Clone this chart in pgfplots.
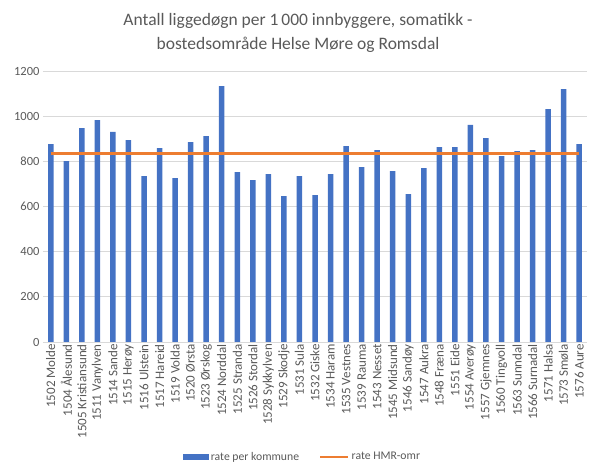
\documentclass[border=0pt]{standalone}
\usepackage{pgfplots}
\pgfplotsset{compat=1.18}
\usepackage{fontspec}
\setmainfont{Carlito}
\definecolor{barblue}{HTML}{4472C4}
\definecolor{lineorange}{HTML}{ED7D31}
\definecolor{txtgray}{HTML}{595959}
\definecolor{gridgray}{HTML}{D9D9D9}
\begin{document}
\begin{tikzpicture}
\path[use as bounding box] (0pt,0pt) rectangle (600pt,471pt);
\node[font=\fontsize{17.5}{24}\selectfont, text=txtgray, align=center] at (298pt,438pt) {Antall liggedøgn per 1\,000 innbyggere, somatikk -\\bostedsområde Helse Møre og Romsdal};
\begin{axis}[
  at={(43pt,129pt)}, anchor=south west,
  scale only axis, width=544pt, height=271pt,
  xmin=-0.5, xmax=34.5, ymin=0, ymax=1200,
  ytick={0,200,...,1200},
  xtick={0,...,34},
  xticklabels={1502 Molde,1504 Ålesund,1505 Kristiansund,1511 Vanylven,1514 Sande,1515 Herøy,1516 Ulstein,1517 Hareid,1519 Volda,1520 Ørsta,1523 Ørskog,1524 Norddal,1525 Stranda,1526 Stordal,1528 Sykkylven,1529 Skodje,1531 Sula,1532 Giske,1534 Haram,1535 Vestnes,1539 Rauma,1543 Nesset,1545 Midsund,1546 Sandøy,1547 Aukra,1548 Fræna,1551 Eide,1554 Averøy,1557 Gjemnes,1560 Tingvoll,1563 Sunndal,1566 Surnadal,1571 Halsa,1573 Smøla,1576 Aure},
  x tick label style={rotate=90, anchor=east, font=\fontsize{13}{15}\selectfont, text=txtgray, inner sep=2pt},
  y tick label style={font=\fontsize{12.5}{14}\selectfont, text=txtgray},
  /pgf/number format/assume math mode=true,
  /pgf/number format/1000 sep={},
  major tick length=0pt,
  ymajorgrids, grid style={gridgray, line width=0.75pt},
  axis line style={draw=none},
  legend columns=2,
  legend style={at={(0.477,-0.424)}, anchor=center, draw=none, fill=none,
    font=\fontsize{11.7}{14}\selectfont, text=txtgray,
    /tikz/every even column/.append style={column sep=18pt},
    /tikz/every odd column/.append style={inner xsep=1pt}},
]
\addplot[ybar, bar width=5.5pt, fill=barblue, draw=none,
  legend image code/.code={\fill[barblue] (0pt,-3pt) rectangle (26pt,3pt);}]
coordinates {
(0,876)(1,801)(2,947)(3,983)(4,930)(5,894)(6,734)(7,859)(8,726)(9,885)
(10,912)(11,1133)(12,752)(13,717)(14,743)(15,646)(16,734)(17,650)(18,743)(19,867)
(20,774)(21,850)(22,757)(23,655)(24,770)(25,863)(26,863)(27,961)(28,903)(29,823)
(30,845)(31,850)(32,1031)(33,1120)(34,876)};
\addlegendentry{rate per kommune}
\addplot[lineorange, line width=2.6pt, mark=none,
  legend image code/.code={\draw[lineorange, line width=2.6pt] (0pt,0pt) -- (28pt,0pt);}]
coordinates {
(0,836)(1,836)(2,836)(3,836)(4,836)(5,836)(6,836)(7,836)(8,836)(9,836)
(10,836)(11,836)(12,836)(13,836)(14,836)(15,836)(16,836)(17,836)(18,836)(19,836)
(20,836)(21,836)(22,836)(23,836)(24,836)(25,836)(26,836)(27,836)(28,836)(29,836)
(30,836)(31,836)(32,836)(33,836)(34,836)};
\addlegendentry{rate HMR-omr}
\end{axis}
\end{tikzpicture}
\end{document}
